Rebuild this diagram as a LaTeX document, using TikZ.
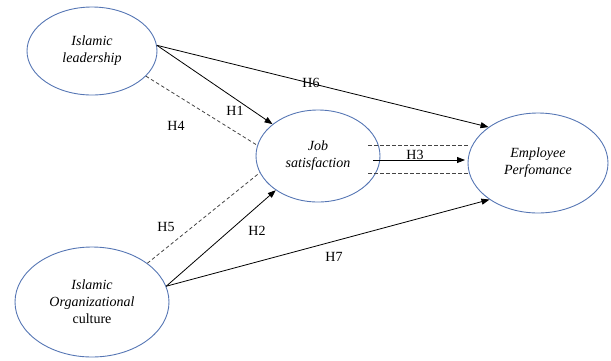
\documentclass[tikz,border=0pt]{standalone}
\usepackage{fontspec}
\setmainfont{Liberation Serif}
\usetikzlibrary{shapes.geometric,arrows.meta,calc}
\definecolor{ovalblue}{HTML}{5676B4}
\definecolor{dashgray}{HTML}{444444}
\tikzset{
  construct/.style={draw=ovalblue, line width=0.9pt, ellipse, inner sep=0pt,
    align=center, font=\fontsize{14}{17}\selectfont},
  path/.style={draw=black, line width=0.8pt, -{Triangle[length=8pt,width=6pt]}},
  mediation/.style={draw=dashgray, line width=0.8pt, dash pattern=on 3.5pt off 2.5pt},
  hyp/.style={font=\fontsize{14}{16}\selectfont, inner sep=0pt}
}
\begin{document}
\begin{tikzpicture}[x=1pt,y=-1pt]
\useasboundingbox (0,0) rectangle (611,360);

% constructs
\node[construct, minimum width=130pt, minimum height=88pt] (lead) at (92,51)
  {\textit{Islamic}\\\textit{leadership}};
\node[construct, minimum width=124pt, minimum height=92pt] (job) at (318,156)
  {\textit{Job}\\\textit{satisfaction}};
\node[construct, minimum width=140pt, minimum height=100pt] (emp) at (538,163)
  {\textit{Employee}\\\textit{Perfomance}};
\node[construct, minimum width=154pt, minimum height=110pt] (org) at (92,302)
  {\textit{Islamic}\\\textit{Organizational}\\culture};

% direct paths
\draw[path] (lead.5) -- (emp.144);
\draw[path] (lead.5) -- (job.145);
\draw[path] (org.12) -- (job.219);
\draw[path] (org.12) -- (emp.217);

% mediation paths
\draw[mediation] (lead.-25) -- (job.170);
\draw[mediation] (org.35) -- (job.196);

% job satisfaction to performance
\coordinate (h3s) at (373,160);
\coordinate (h3e) at (465,160);
\coordinate (upA) at (368,145);
\coordinate (upB) at (468,145);
\coordinate (loA) at (368,173);
\coordinate (loB) at (469,173);
\draw[path] (h3s) -- (h3e);
\draw[mediation] (upA) -- (upB);
\draw[mediation] (loA) -- (loB);

% hypothesis labels
\node[hyp] (l6) at (311,83) {H6};
\node[hyp] (l1) at (235,111) {H1};
\node[hyp] (l4) at (176,126) {H4};
\node[hyp] (l3) at (415,155) {H3};
\node[hyp] (l5) at (166,227) {H5};
\node[hyp] (l2) at (257,231) {H2};
\node[hyp] (l7) at (334,257) {H7};
\end{tikzpicture}
\end{document}
